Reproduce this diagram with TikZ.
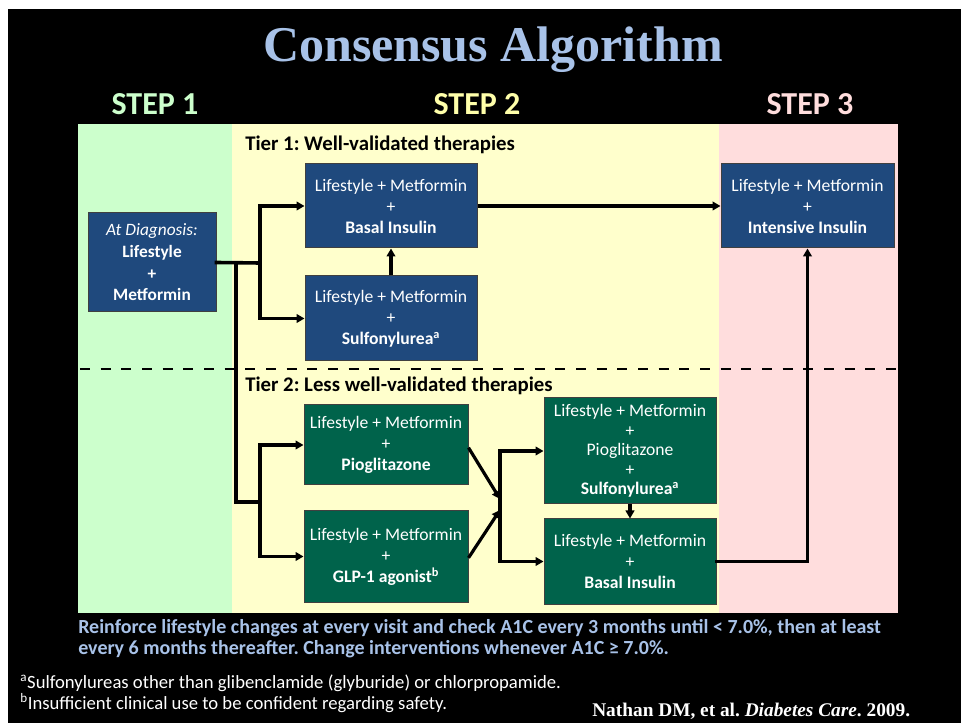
\documentclass[tikz,border=0pt]{standalone}
\usepackage{fontspec}
\setmainfont{Carlito}
\newfontfamily\citefont{Liberation Serif}
\usetikzlibrary{arrows.meta, positioning, calc}

\definecolor{headblue}{RGB}{168, 194, 232}
\definecolor{steponegreen}{RGB}{204, 255, 204}
\definecolor{steptwoyellow}{RGB}{255, 255, 204}
\definecolor{steptwolabel}{RGB}{255, 255, 170}
\definecolor{stepthreepink}{RGB}{255, 221, 221}
\definecolor{tieroneblue}{RGB}{31, 73, 125}
\definecolor{tiertwogreen}{RGB}{0, 99, 75}

\begin{document}
\frenchspacing
\begin{tikzpicture}[x=0.75pt, y=-0.75pt,
    box/.style={draw=black!75, line width=0.75pt, text=white, align=center,
                inner sep=0pt, font=\fontsize{13.2}{15.75}\selectfont},
    tierone/.style={box, fill=tieroneblue},
    tiertwo/.style={box, fill=tiertwogreen},
    link/.style={line width=2.7pt, line cap=rect},
    arr/.style={line width=2.4pt, -{Triangle[length=6pt, width=6.5pt]}},
    steplabel/.style={anchor=base, font=\fontsize{24}{28}\selectfont\bfseries},
    tierlabel/.style={anchor=base west, inner sep=0pt, font=\fontsize{15.6}{18}\selectfont\bfseries}]
                    % slide and step panels
                    \useasboundingbox (0,0) rectangle (961,723);
                    \fill[black] (8,9) rectangle (961,723);
                    \fill[steponegreen] (78,124) rectangle (232,613);
                    \fill[steptwoyellow] (232,124) rectangle (719,613);
                    \fill[stepthreepink] (719,124) rectangle (898,613);
                    \node[anchor=base, text=headblue, font=\citefont\fontsize{37.5}{40}\selectfont\bfseries] (title) at (493,62) {Consensus Algorithm};
                    \node[steplabel, text=steponegreen] (step1) at (155,115) {STEP 1};
                    \node[steplabel, text=steptwolabel] (step2) at (477,115) {STEP 2};
                    \node[steplabel, text=stepthreepink] (step3) at (810,115) {STEP 3};
                    \node[tierlabel] (tier1) at (245,151) {Tier 1: Well-validated therapies};
                    \node[tierlabel] (tier2) at (245,392) {Tier 2: Less well-validated therapies};
                    \draw[line width=2.2pt, dash pattern=on 7.5pt off 8pt] (80,369) -- (898,369);
                    % therapy boxes
                    \node[tierone, minimum width=96pt, minimum height=74.25pt, font=\fontsize{13}{16.3}\selectfont] (diag) at (152,262.5) {\textit{At Diagnosis:}\\\textbf{Lifestyle}\\\textbf{+}\\\textbf{Metformin}};
                    \node[tierone, minimum width=129pt, minimum height=63pt] (basal) at (391,206) {Lifestyle + Metformin\\+\\\textbf{Basal Insulin}};
                    \node[tierone, minimum width=129pt, minimum height=63.75pt] (sulf) at (391,318.5) {Lifestyle + Metformin\\+\\\textbf{Sulfonylurea\textsuperscript{a}}};
                    \node[tierone, minimum width=129.75pt, minimum height=63pt] (intens) at (807.5,206) {Lifestyle + Metformin\\+\\\textbf{Intensive Insulin}};
                    \node[tiertwo, minimum width=123pt, minimum height=60pt] (pio) at (386,445) {Lifestyle + Metformin\\+\\\textbf{Pioglitazone}};
                    \node[tiertwo, minimum width=123pt, minimum height=68.25pt] (glp) at (386,556.5) {Lifestyle + Metformin\\+\\\textbf{GLP-1 agonist\textsuperscript{b}}};
                    \node[tiertwo, minimum width=129pt, minimum height=79.5pt, font=\fontsize{13.2}{14.6}\selectfont] (piosulf) at (630,451) {Lifestyle + Metformin\\+\\Pioglitazone\\+\\\textbf{Sulfonylurea\textsuperscript{a}}};
                    \node[tiertwo, minimum width=129pt, minimum height=63.75pt] (basal2) at (630,561.5) {Lifestyle + Metformin\\+\\\textbf{Basal Insulin}};
                    % forks
                    \coordinate (fork1) at (260,263);
                    \coordinate (trunk) at (236,263);
                    \coordinate (fork2) at (260,502);
                    \coordinate (fork3) at (500,505);
                    \coordinate (meet1) at (500,499);
                    \coordinate (meet2) at (500,510);
                    \draw[link] (diag.east) -- (fork1);
                    \draw[link] (trunk) |- (fork2);
                    \draw[link] (fork1 |- basal.west) -- (fork1 |- sulf.west);
                    \draw[link] (fork2 |- pio.west) -- (fork2 |- glp.west);
                    \draw[link] (fork3 |- piosulf.west) -- (fork3 |- basal2.west);
                    \draw[arr] (fork1 |- basal.west) -- (basal.west);
                    \draw[arr] (fork1 |- sulf.west) -- (sulf.west);
                    \draw[arr] (fork2 |- pio.west) -- (pio.west);
                    \draw[arr] (fork2 |- glp.west) -- (glp.west);
                    \draw[arr] (sulf.north) -- (basal.south);
                    \draw[arr] (basal.east) -- (intens.west);
                    \draw[arr] ([yshift=-2pt]pio.east) -- (meet1);
                    \draw[arr] ([yshift=-1pt]glp.east) -- (meet2);
                    \draw[arr] (fork3 |- piosulf.west) -- (piosulf.west);
                    \draw[arr] (fork3 |- basal2.west) -- (basal2.west);
                    \draw[arr] (piosulf.south) -- (basal2.north);
                    \draw[link] (basal2.east) -- (basal2.east -| intens.south);
                    \draw[arr, line width=2pt] (basal2.east -| intens.south) -- (intens.south);
                    % notes under the panels (base = last line)
                    \node[anchor=base west, inner sep=0pt, align=left, text=headblue, font=\fontsize{15}{15.75}\selectfont\bfseries] (advice) at (78,654) {Reinforce lifestyle changes at every visit and check A1C every 3 months until < 7.0\%, then at least\\every 6 months thereafter. Change interventions whenever A1C ≥ 7.0\%.};
                    \node[anchor=base west, inner sep=0pt, align=left, text=white, font=\fontsize{14}{14.25}\selectfont] (notes) at (20,709) {\textsuperscript{a}Sulfonylureas other than glibenclamide (glyburide) or chlorpropamide.\\\textsuperscript{b}Insufficient clinical use to be confident regarding safety.};
                    \node[anchor=base west, inner sep=0pt, text=white, font=\citefont\fontsize{14.5}{16}\selectfont\bfseries] (cite) at (592,716) {Nathan DM, et al. \textit{Diabetes Care}. 2009.};
                \end{tikzpicture}
\end{document}
